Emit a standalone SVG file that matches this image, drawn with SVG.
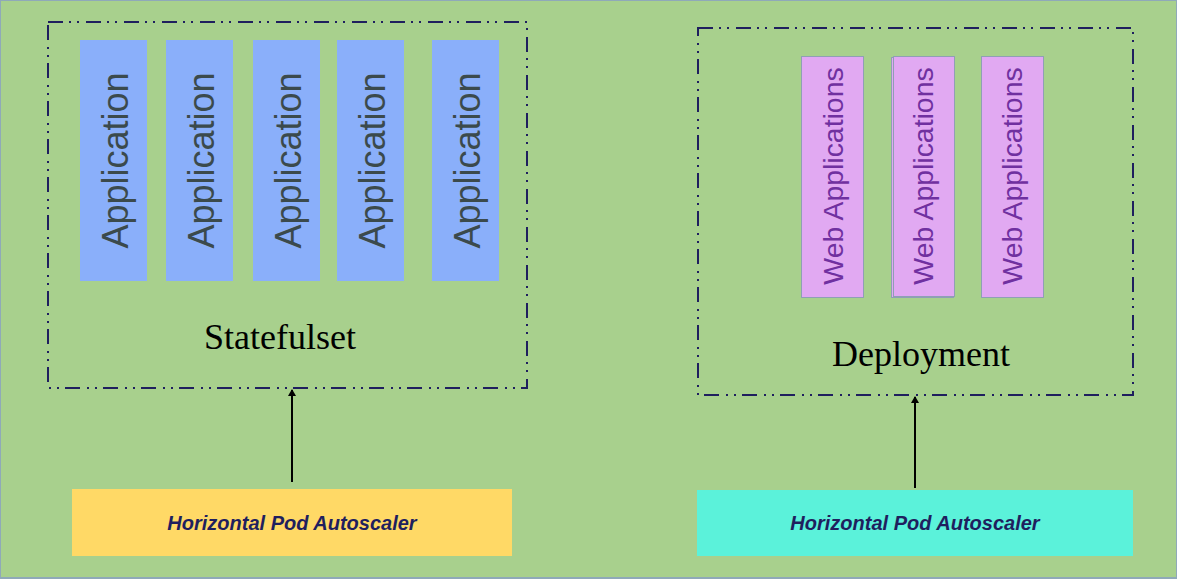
<svg xmlns="http://www.w3.org/2000/svg" width="1177" height="580" viewBox="0 0 1177 580">
<defs>
<style>
.bg{fill:#a8d08d;stroke:#8fa9b9;stroke-width:2}
.grp{fill:none;stroke:#1f1f5e;stroke-width:2;stroke-dasharray:15 6 2 6 2 7}
.app{fill:#8aaffa}
.apptxt{font-family:"Liberation Sans",Arial,sans-serif;font-size:36px;fill:#3b4a4c;text-anchor:middle;dominant-baseline:central}
.web{fill:#e1a9f2;stroke:#8f9fb5;stroke-width:1}
.webtxt{font-family:"Liberation Sans",Arial,sans-serif;font-size:28.4px;fill:#7030a0;text-anchor:middle;dominant-baseline:central}
.lbl{font-family:"Liberation Serif","Times New Roman",serif;font-size:36px;fill:#000;text-anchor:middle}
.hpatxt{font-family:"Liberation Sans",Arial,sans-serif;font-size:20px;font-weight:bold;font-style:italic;fill:#1f1f5e;text-anchor:middle;dominant-baseline:central}
.conn{stroke:#000;stroke-width:2;fill:none}
</style>
<marker id="ah" markerWidth="8" markerHeight="8" refX="6" refY="4" orient="auto" markerUnits="userSpaceOnUse">
<path d="M0,0 L7,4 L0,8 Z" fill="#000"/>
</marker>
</defs>
<rect class="bg" x="0" y="0" width="1177" height="578"/>

<g id="statefulset">
<rect class="grp" x="48" y="22" width="479" height="366"/>
<text class="lbl" x="280" y="349">Statefulset</text>
</g>
<g id="app1"><rect class="app" x="80" y="40" width="67" height="241"/><text class="apptxt" transform="translate(115,160.5) rotate(-90)">Application</text></g>
<g id="app2"><rect class="app" x="166" y="40" width="67" height="241"/><text class="apptxt" transform="translate(201,160.5) rotate(-90)">Application</text></g>
<g id="app3"><rect class="app" x="253" y="40" width="67" height="241"/><text class="apptxt" transform="translate(288,160.5) rotate(-90)">Application</text></g>
<g id="app4"><rect class="app" x="337" y="40" width="67" height="241"/><text class="apptxt" transform="translate(372,160.5) rotate(-90)">Application</text></g>
<g id="app5"><rect class="app" x="432" y="40" width="67" height="241"/><text class="apptxt" transform="translate(467,160.5) rotate(-90)">Application</text></g>

<g id="deployment">
<rect class="grp" x="698" y="28" width="435" height="367"/>
<text class="lbl" x="921" y="366">Deployment</text>
</g>
<g id="web1"><rect class="web" x="801.5" y="56.5" width="62" height="241"/><text class="webtxt" transform="translate(833,176) rotate(-90)">Web Applications</text></g>
<g id="web2"><rect class="web" x="891.5" y="57.5" width="62" height="240"/><rect class="web" x="893.5" y="56.5" width="61" height="240"/><text class="webtxt" transform="translate(923,176) rotate(-90)">Web Applications</text></g>
<g id="web3"><rect class="web" x="981.5" y="56.5" width="62" height="241"/><text class="webtxt" transform="translate(1012,176) rotate(-90)">Web Applications</text></g>

<g id="hpa1"><rect x="72" y="489" width="440" height="67" fill="#ffd966"/><text class="hpatxt" x="292" y="523">Horizontal Pod Autoscaler</text></g>
<g id="hpa2"><rect x="697" y="490" width="436" height="66" fill="#5bf2da"/><text class="hpatxt" x="915" y="523">Horizontal Pod Autoscaler</text></g>

<g id="connectors">
<line class="conn" x1="292" y1="482" x2="292" y2="390" marker-end="url(#ah)"/>
<line class="conn" x1="915" y1="488" x2="915" y2="397" marker-end="url(#ah)"/>
</g>
</svg>
